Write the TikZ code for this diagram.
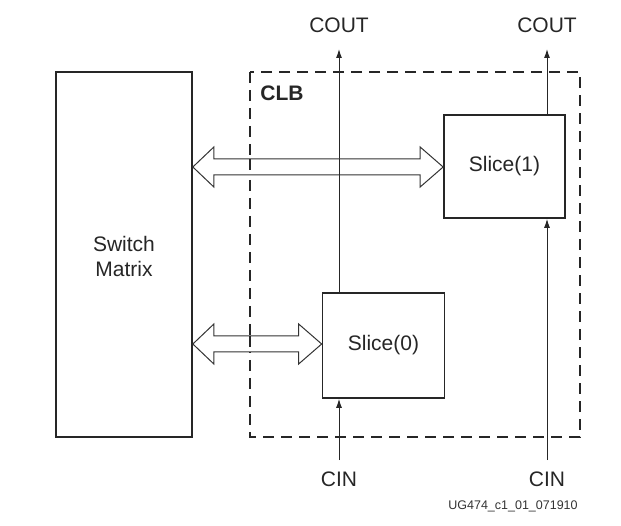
\documentclass[tikz,border=0pt]{standalone}
\usepackage{fontspec}
\setmainfont{Liberation Sans}
\usetikzlibrary{calc,arrows.meta}
\begin{document}
\begin{tikzpicture}[x=1pt,y=-1pt,
  box/.style={draw=black!85,line width=1.7pt,inner sep=0pt},
  lbl/.style={font=\fontsize{21}{25}\selectfont,text=black!85,inner sep=0pt},
  sig/.style={draw=black!85,line width=1pt,-{Latex[length=9pt,width=6pt]}},
  wire/.style={draw=black!85,line width=1pt},
  bigarrow/.style={draw=black!80,line width=1pt,fill=white},
  clb/.style={draw=black!85,line width=1.7pt,dash pattern=on 11pt off 7pt}]
\useasboundingbox (0,0) rectangle (621,526);
% boxes
\draw[clb] (250,72) rectangle (580,437);
\node[lbl,font=\fontsize{21}{25}\selectfont\bfseries] (clbl) at (282,93) {CLB};
\node[box,minimum width=136pt,minimum height=365pt] (sm) at (124,254.5) {};
\node[lbl,align=center] (smt) at (124,256) {Switch\\Matrix};
\node[box,fill=white,minimum width=121pt,minimum height=103pt,lbl,draw=black!85,line width=1.7pt] (s1) at (504.5,166.5) {Slice(1)};
\node[box,fill=white,minimum width=122pt,minimum height=105pt,lbl,draw=black!85,line width=1.7pt] (s0) at (383.5,345.5) {Slice(0)};
% labels
\node[lbl] (co0) at (339,25) {COUT};
\node[lbl] (co1) at (547,25) {COUT};
\node[lbl] (ci0) at (339,479) {CIN};
\node[lbl] (ci1) at (547,479) {CIN};
\node[font=\fontsize{12.5}{14}\selectfont,text=black!80,inner sep=0pt] (tag) at (513,506) {UG474\_c1\_01\_071910};
% carry wires
\coordinate (co0t) at (339,49);
\coordinate (co1t) at (547,49);
\coordinate (ci0b) at (339,460);
\coordinate (ci1b) at (547,460);
\draw[sig] (s0.north -| co0t) -- (co0t);
\draw[sig] (s1.north -| co1t) -- (co1t);
\draw[sig] (ci0b) -- (s0.south -| ci0b);
\draw[sig] (ci1b) -- (s1.south -| ci1b);
% bidirectional buses
\coordinate (a1l) at (sm.east |- 0,167);
\coordinate (a1r) at (s1.west |- a1l);
\coordinate (a2l) at (sm.east |- 0,344);
\coordinate (a2r) at (s0.west |- a2l);
\foreach \A/\B in {a1l/a1r,a2l/a2r}{
  \draw[bigarrow] (\A) -- ++(21,-20) -- ++(0,12) -- ($(\B)+(-23,-8)$) -- ++(0,-12) -- (\B)
    -- ++(-23,20) -- ++(0,-12) -- ($(\A)+(21,8)$) -- ++(0,12) -- cycle;
}
% redraw wires crossing buses
\draw[wire] (339,159) -- (339,175);
\draw[clb,dash pattern=on 11pt off 7pt] (250,159) -- (250,175);
\draw[clb] (250,336) -- (250,352);
\end{tikzpicture}
\end{document}
